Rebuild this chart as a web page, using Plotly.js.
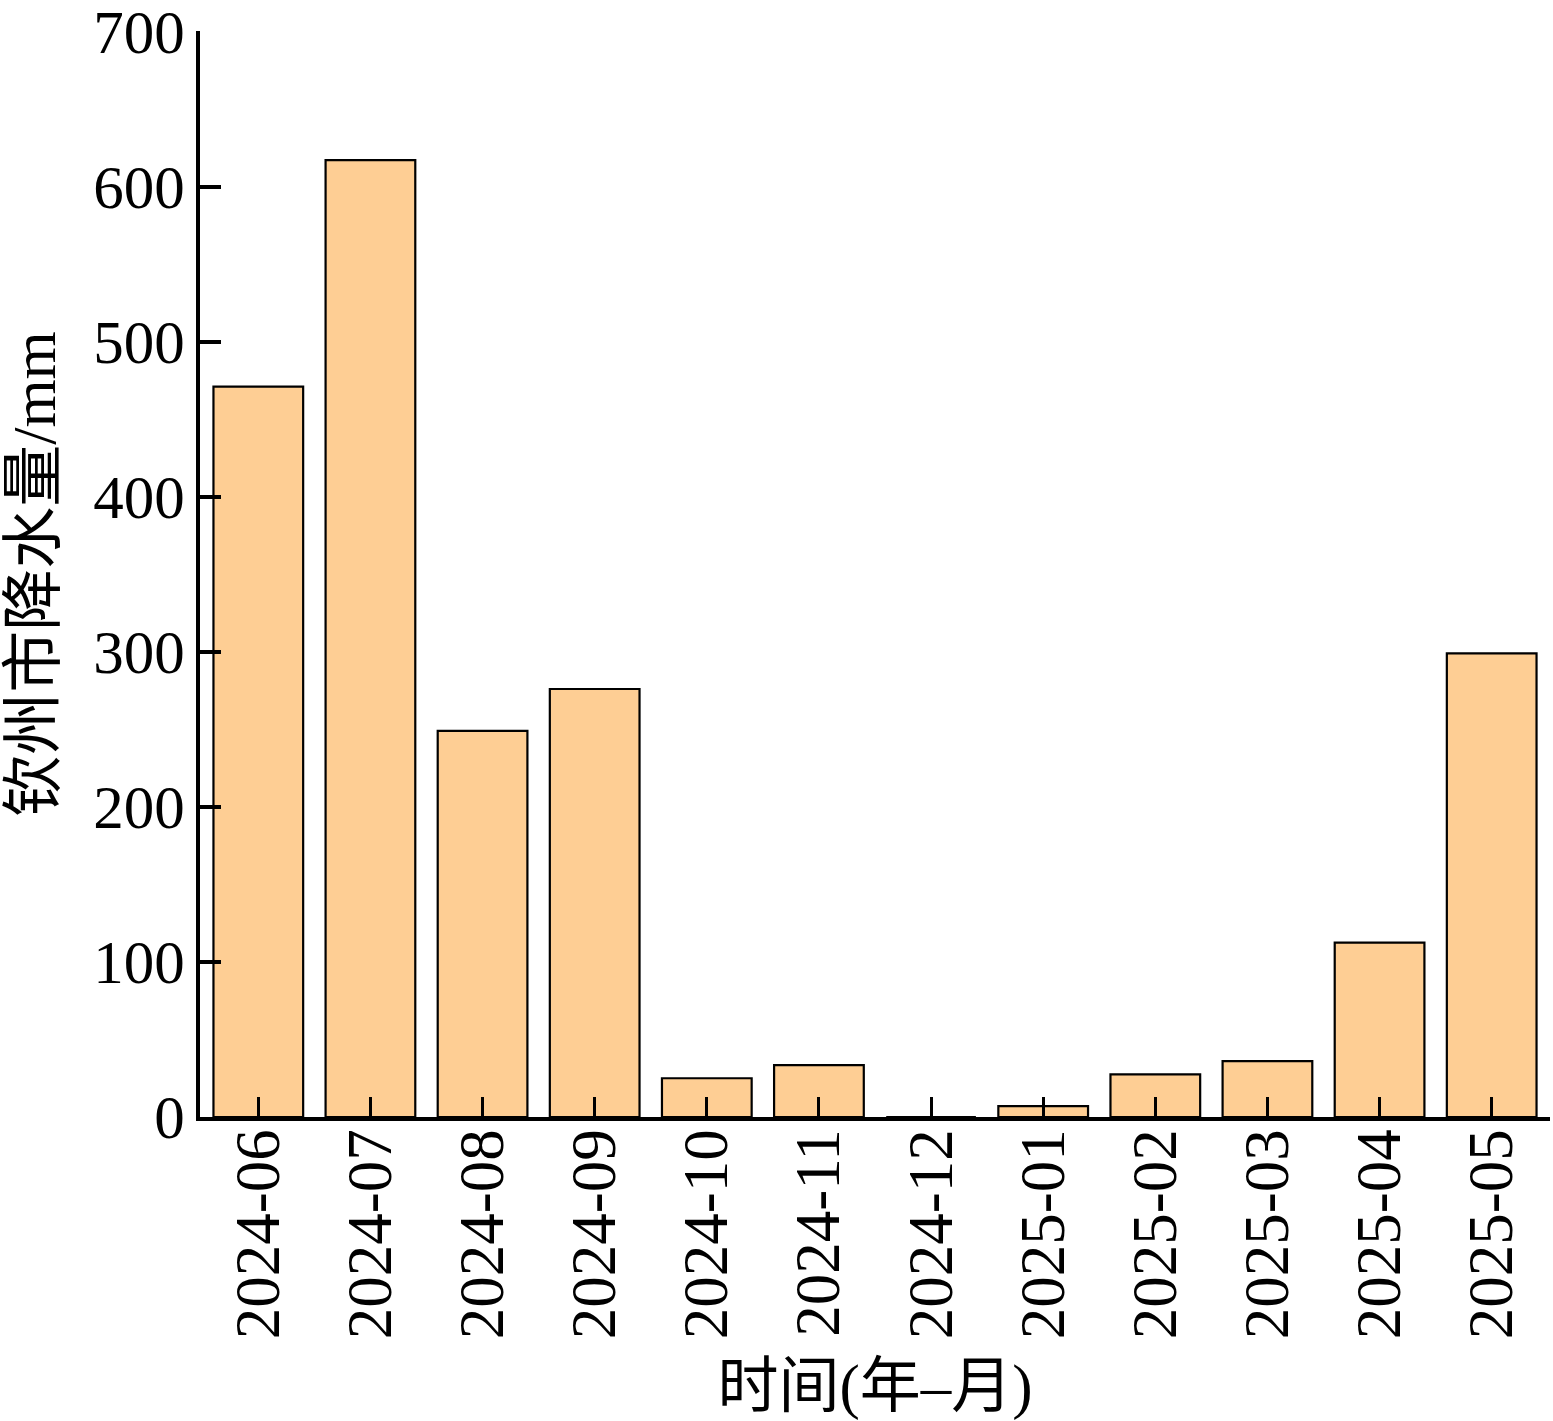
<!DOCTYPE html>
<html><head><meta charset="utf-8">
<script src="https://cdn.plot.ly/plotly-3.0.1.min.js"></script>
<style>html,body{margin:0;padding:0;background:#fff}</style>
</head><body><div id="chart" style="width:1553px;height:1421px"></div>
<script>
const months = ["2024-06","2024-07","2024-08","2024-09","2024-10","2024-11","2024-12","2025-01","2025-02","2025-03","2025-04","2025-05"];
const rainfall = [471, 617, 249, 276, 25, 33.5, 0, 7, 27.5, 36, 112.5, 299];
const yTickValues = [0, 100, 200, 300, 400, 500, 600, 700];
const xTitle = "时间(年–月)";
const yTitle = "钦州市降水量/mm";

const fontFamily = "'Liberation Serif', 'Times New Roman', 'Noto Sans CJK SC', serif";

const data = [{
  type: "bar",
  x: months,
  y: rainfall,
  width: 0.8,
  marker: {color: "#FECE94", line: {color: "#000", width: 2.2}},
  hoverinfo: "x+y"
}];

const layout = {
  width: 1553, height: 1421,
  margin: {l: 200, r: 3, t: 31, b: 304, pad: 0},
  paper_bgcolor: "#fff", plot_bgcolor: "#fff",
  showlegend: false,
  font: {family: fontFamily, color: "#000"},
  xaxis: {
    type: "category",
    range: [-0.52, 11.52],
    showgrid: false, zeroline: false,
    showline: true, linecolor: "#000", linewidth: 4,
    ticks: "inside", ticklen: 20, tickwidth: 3, tickcolor: "#000",
    tickangle: -90,
    tickfont: {family: fontFamily, size: 63, color: "#000"},
    ticklabelstandoff: -17,
    ticklabeloverflow: "allow",
    title: {text: xTitle, font: {family: fontFamily, size: 61, color: "#000"}, standoff: 28},
    automargin: false, fixedrange: true
  },
  yaxis: {
    range: [0, 700.3],
    tickvals: yTickValues,
    ticktext: yTickValues.map(String),
    showgrid: false, zeroline: false,
    showline: true, linecolor: "#000", linewidth: 4,
    ticks: "inside", ticklen: 21, tickwidth: 4, tickcolor: "#000",
    tickfont: {family: fontFamily, size: 61, color: "#000"},
    ticklabelstandoff: -1,
    ticklabeloverflow: "allow",
    title: {text: yTitle, font: {family: fontFamily, size: 62, color: "#000"}, standoff: 30},
    automargin: false, fixedrange: true
  }
};

Plotly.newPlot("chart", data, layout, {staticPlot: true, displayModeBar: false});
</script>
</body></html>
